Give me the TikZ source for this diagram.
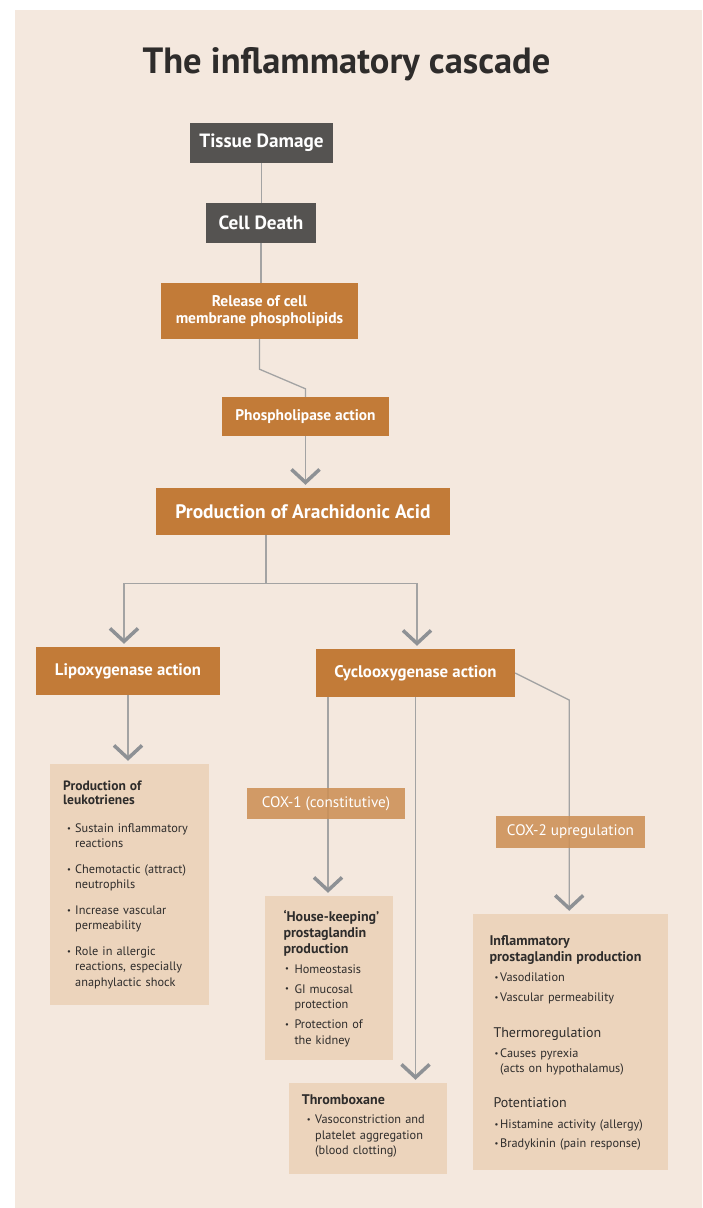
\documentclass[tikz,border=0pt]{standalone}
\usepackage{fontspec}
\setmainfont{PT Sans}
\usetikzlibrary{arrows.meta}

\definecolor{mPeach}{HTML}{F4E8DE}
\definecolor{mDarkGrey}{HTML}{555351}
\definecolor{mOrange}{HTML}{C27B38}
\definecolor{mLightOrange}{HTML}{CD9056}
\definecolor{mTan}{HTML}{ECD4BC}
\definecolor{mLine}{HTML}{A3A3A3}
\definecolor{mChev}{HTML}{8E9195}
\definecolor{mText}{HTML}{2E2C2B}

\newcommand\bitem[2]{\hspace*{#1}\makebox[#2][l]{\raisebox{1.2pt}{\fontsize{8.5}{8}\selectfont\textbullet}}}

\tikzset{
  darkbox/.style={fill=mDarkGrey, text=white, inner sep=0pt,
    font=\bfseries\fontsize{19.2}{21}\selectfont},
  stepbox/.style={fill=mOrange, text=white, inner sep=0pt, align=center},
  labelbox/.style={fill=mLightOrange, fill opacity=0.88, text opacity=1,
    text=white, inner sep=0pt, font=\fontsize{15.2}{17}\selectfont},
  infobox/.style={fill=mTan, inner sep=0pt},
  infotext/.style={anchor=base west, inner sep=0pt, text=mText, align=left,
    text width=#1, font=\fontsize{12.3}{15.5}\selectfont},
  link/.style={draw=mLine, line width=1.3pt},
  chev/.style={link, shorten >=3pt,
    -{Straight Barb[length=13pt,width=28pt,line width=3.5pt,color=mChev]}},
}

\begin{document}
\begin{tikzpicture}[x=1pt, y=-1pt]

% page and backdrop
\useasboundingbox (0,0) rectangle (702,1208);
\fill[white] (0,0) rectangle (702,1208);
\fill[mPeach] (15,10) rectangle (702,1208);

\node[anchor=base, text=mText, font=\bfseries\fontsize{36.5}{40}\selectfont] (title) at (346.5,73) {The inflammatory cascade};

% main chain
\node[darkbox, minimum width=143pt, minimum height=40pt] (tissue) at (261.5,143) {Tissue Damage};
\node[darkbox, minimum width=110pt, minimum height=40pt] (cell) at (261,223) {Cell Death};
\node[stepbox, minimum width=197pt, minimum height=56pt, font=\bfseries\fontsize{15.5}{16.7}\selectfont] (release) at (259.5,311) {Release of cell\\membrane phospholipids};
\node[stepbox, minimum width=167pt, minimum height=39pt, font=\bfseries\fontsize{15.4}{17}\selectfont] (phospho) at (305.5,416.5) {Phospholipase action};
\node[stepbox, minimum width=294pt, minimum height=47pt, font=\bfseries\fontsize{19.5}{21}\selectfont] (arach) at (303,511.5) {Production of Arachidonic Acid};
\node[stepbox, minimum width=184pt, minimum height=48pt, font=\bfseries\fontsize{16.7}{18}\selectfont] (lipox) at (128,671) {Lipoxygenase action};
\node[stepbox, minimum width=199pt, minimum height=48pt, font=\bfseries\fontsize{16.8}{18}\selectfont] (cyclo) at (415.5,673) {Cyclooxygenase action};

% result boxes
\node[infobox, minimum width=159pt, minimum height=241pt] (leuko) at (129.5,884.5) {};
\node[infobox, minimum width=128pt, minimum height=164pt] (house) at (329,978) {};
\node[infobox, minimum width=158pt, minimum height=91pt] (thromb) at (368,1128.5) {};
\node[infobox, minimum width=195pt, minimum height=256pt] (inflam) at (570.5,1042) {};

% connectors
\draw[link] (tissue.south) -- (tissue.south |- cell.north);
\draw[link] (cell.south) -- (cell.south |- release.north);
\draw[link] (release.south) -- ++(0,30) -- ([yshift=8pt]phospho.north) -- (phospho.north);
\draw[chev] (phospho.south) -- (phospho.south |- arach.north);
\draw[link] ([xshift=-37pt]arach.south) -- ++(0,48.5) coordinate (split);
\draw[chev] (split) -| ([xshift=-4pt]lipox.north);
\draw[chev] (split) -| ([xshift=1.5pt]cyclo.north);
\draw[chev] (lipox.south) -- (lipox.south |- leuko.north);
\draw[chev] ([xshift=-87.5pt]cyclo.south) -- ([xshift=-87.5pt]cyclo.south |- house.north);
\draw[chev] (cyclo.south) -- (cyclo.south |- thromb.north);
\draw[chev] (cyclo.east) -- ++(54,27) coordinate (bend) -- (bend |- inflam.north);

% enzyme labels on the lines
\node[labelbox, minimum width=158pt, minimum height=31pt] (cox1) at (326,803.5) {COX-1 (constitutive)};
\node[labelbox, minimum width=149pt, minimum height=32pt] (cox2) at (570.5,832) {COX-2 upregulation};

% box texts
\node[infotext=140pt] (leukotext) at (63,790.7) {{\bfseries\fontsize{13.5}{15}\selectfont Production of\\[-1.5pt] leukotrienes}\\[12pt]
\bitem{4pt}{8pt}Sustain inflammatory\\ \hspace*{12pt}reactions\\[10pt]
\bitem{4pt}{8pt}Chemotactic (attract)\\ \hspace*{12pt}neutrophils\\[10pt]
\bitem{4pt}{8pt}Increase vascular\\ \hspace*{12pt}permeability\\[10pt]
\bitem{4pt}{8pt}Role in allergic\\ \hspace*{12pt}reactions, especially\\ \hspace*{12pt}anaphylactic shock};

\node[infotext=110pt] (housetext) at (283.3,921.7) {{\bfseries\fontsize{14}{15.8}\selectfont `House-keeping'\\ prostaglandin\\ production}\\[4.5pt]
\bitem{1.7pt}{9.3pt}Homeostasis\\[4.5pt]
\bitem{1.7pt}{9.3pt}GI mucosal\\ \hspace*{11pt}protection\\[4.5pt]
\bitem{1.7pt}{9.3pt}Protection of\\ \hspace*{11pt}the kidney};

\node[infotext=140pt] (thrombtext) at (301.7,1104.3) {{\bfseries\fontsize{14}{15.8}\selectfont Thromboxane}\\[4pt]
\bitem{5pt}{8.3pt}Vasoconstriction and\\ \hspace*{13.3pt}platelet aggregation\\ \hspace*{13.3pt}(blood clotting)};

\node[infotext=180pt] (inflamtext) at (489.3,945.7) {{\bfseries\fontsize{14}{15}\selectfont Inflammatory\\ prostaglandin production}\\[5pt]
\bitem{5pt}{5.7pt}Vasodilation\\[4pt]
\bitem{5pt}{5.7pt}Vascular permeability\\[20.5pt]
\hspace*{4pt}{\fontsize{14}{15.5}\selectfont Thermoregulation}\\[4.5pt]
\bitem{5pt}{5.7pt}Causes pyrexia\\ \hspace*{10.7pt}(acts on hypothalamus)\\[19pt]
\hspace*{4pt}{\fontsize{14}{15.5}\selectfont Potentiation}\\[6pt]
\bitem{5pt}{5.7pt}Histamine activity (allergy)\\[3.5pt]
\bitem{5pt}{5.7pt}Bradykinin (pain response)};

\end{tikzpicture}
\end{document}
